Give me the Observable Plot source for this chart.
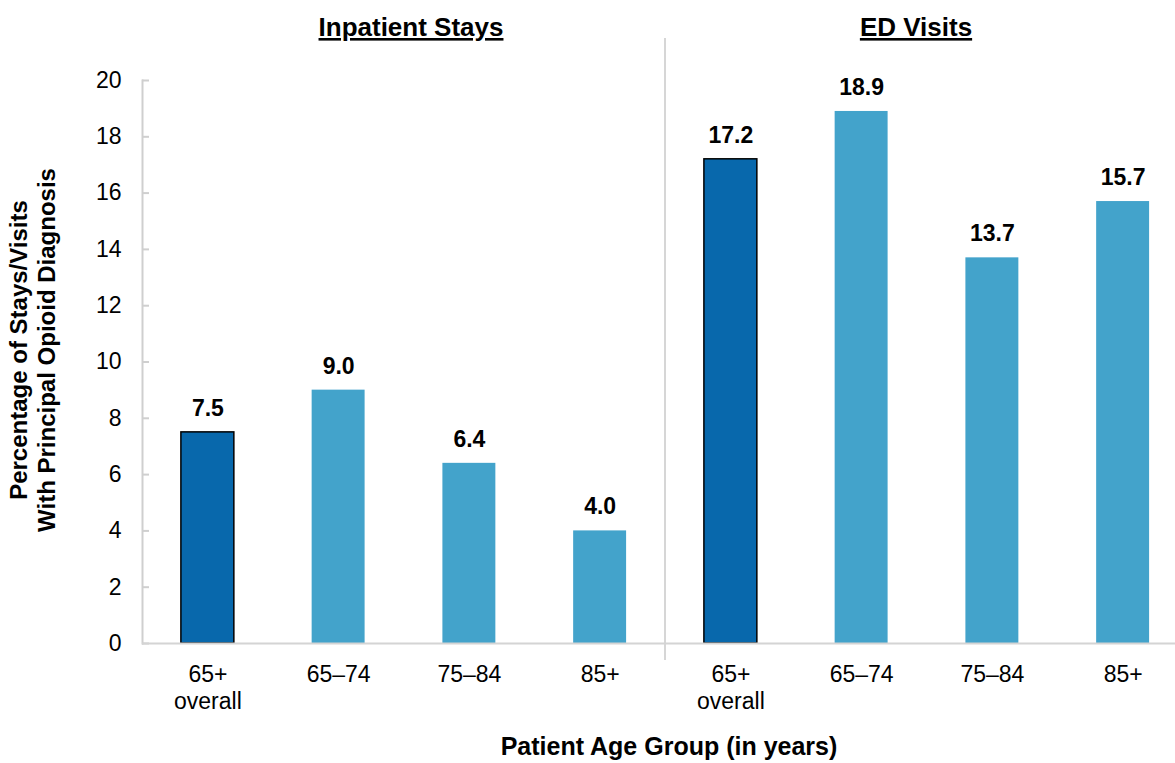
<!DOCTYPE html>
<html>
<head>
<meta charset="utf-8">
<script src="https://cdn.jsdelivr.net/npm/d3@7"></script>
<script src="https://cdn.jsdelivr.net/npm/@observablehq/plot@0.6"></script>
<style>
  html, body { margin: 0; padding: 0; background: #fff; }
  #chart svg { font-family: "Liberation Sans", Arial, sans-serif; display: block; }
</style>
</head>
<body>
<div id="chart"></div>
<script>
const groups = ["Inpatient Stays", "ED Visits"];
const categories = ["65+\noverall", "65–74", "75–84", "85+"];
const inpatientValues = [7.5, 9.0, 6.4, 4.0];
const edValues = [17.2, 18.9, 13.7, 15.7];
const yTicks = [0, 2, 4, 6, 8, 10, 12, 14, 16, 18, 20];

const seriesValues = [inpatientValues, edValues];
const rows = [];
groups.forEach((g, gi) => {
  categories.forEach((c, ci) => {
    rows.push({key: g + "|" + c, group: g, category: c, value: seriesValues[gi][ci], overall: ci === 0});
  });
});
const keys = rows.map(d => d.key);

const W = 1175, H = 763;
const plot = Plot.plot({
  width: W,
  height: H,
  marginTop: 80,
  marginBottom: 120,
  marginLeft: 142,
  marginRight: 0,
  style: {fontFamily: '"Liberation Sans", Arial, sans-serif', color: "#000", background: "#fff"},
  x: {domain: keys, range: [142, 1188], paddingInner: 0.595, paddingOuter: 0.2975, round: false},
  y: {domain: [0, 20]},
  marks: [
    Plot.frame({anchor: "left", stroke: "#cfcfcf", strokeWidth: 2}),
    Plot.axisY({ticks: yTicks, tickSize: -7, stroke: "#cfcfcf", strokeWidth: 2, text: null, label: null}),
    Plot.axisY({ticks: yTicks, tickSize: 0, tickPadding: 21, fontSize: 23, label: null, fill: "#000"}),
    Plot.axisX({tickSize: 0, tickPadding: 19, fontSize: 23, lineHeight: 1.17, label: null, fill: "#000",
      tickFormat: k => k.split("|")[1]}),
    Plot.barY(rows, {
      x: "key", y: "value",
      fill: d => d.overall ? "#0868ac" : "#43a3cb",
      stroke: d => d.overall ? "#000" : "none",
      strokeWidth: 1.5
    }),
    Plot.ruleY([0], {stroke: "#d4d4d4", strokeWidth: 2}),
    Plot.text(rows, {
      x: "key", y: "value",
      text: d => d.value.toFixed(1),
      dy: -24, fontSize: 23, fontWeight: "bold", fill: "#000"
    })
  ]
});

// Divider between groups, placed from the library's x scale
const xs = plot.scale("x");
const divX = xs.apply(keys[4]) - (xs.step - xs.bandwidth) / 2;
const svg = d3.select(plot);
svg.insert("line", ":first-child")
  .attr("x1", divX).attr("x2", divX).attr("y1", 38).attr("y2", 660)
  .attr("stroke", "#c8c8c8").attr("stroke-width", 1.5);

// Group titles
const titlePos = [411, 916];
groups.forEach((g, i) => {
  svg.append("text")
    .attr("x", titlePos[i]).attr("y", 36)
    .attr("text-anchor", "middle")
    .attr("font-size", 26).attr("font-weight", "bold")
    .attr("text-decoration", "underline")
    .attr("fill", "#000")
    .text(g);
});

// Y-axis title (two lines, rotated)
const yTitle = svg.append("text")
  .attr("transform", "translate(0,350) rotate(-90)")
  .attr("text-anchor", "middle")
  .attr("font-size", 24).attr("font-weight", "bold").attr("fill", "#000");
yTitle.append("tspan").attr("x", 0).attr("y", 27).text("Percentage of Stays/Visits");
yTitle.append("tspan").attr("x", 0).attr("y", 55).text("With Principal Opioid Diagnosis");

// X-axis title
svg.append("text")
  .attr("x", 669).attr("y", 755)
  .attr("text-anchor", "middle")
  .attr("font-size", 25).attr("font-weight", "bold").attr("fill", "#000")
  .text("Patient Age Group (in years)");

document.getElementById("chart").appendChild(plot);
</script>
</body>
</html>
